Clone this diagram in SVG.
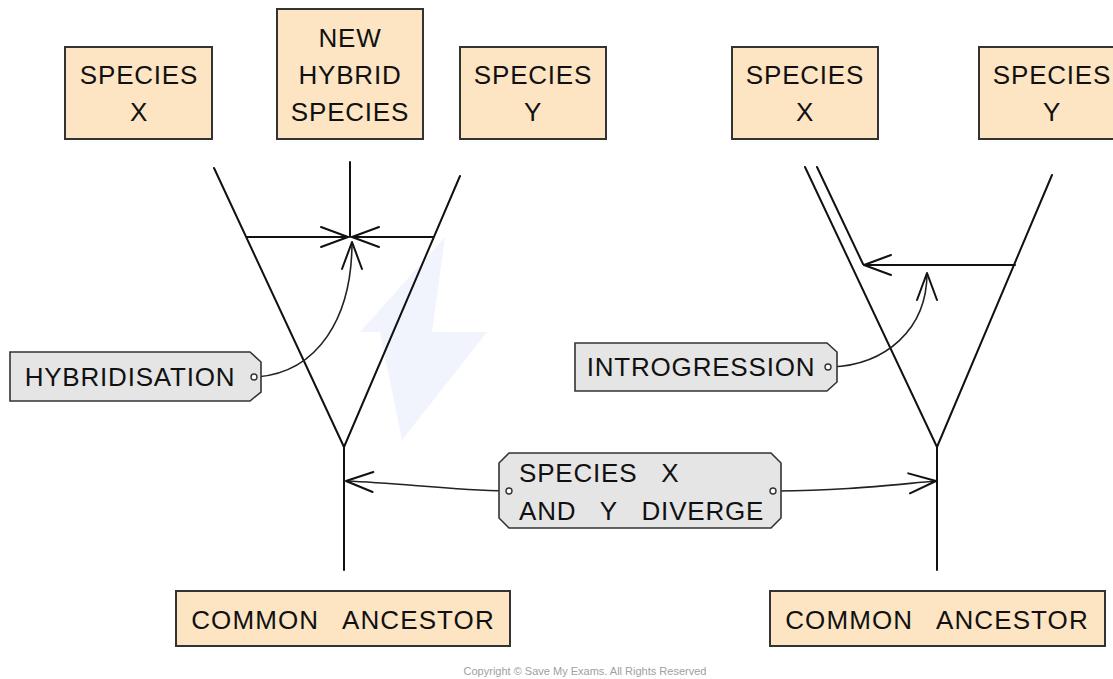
<svg xmlns="http://www.w3.org/2000/svg" width="1113" height="679" viewBox="0 0 1113 679">
<style>
  .box{fill:#FDE5C3;stroke:#333;stroke-width:2}
  .lab{fill:#E5E5E5;stroke:#333;stroke-width:1.6}
  .t{font-family:"Liberation Sans",Arial,sans-serif;font-size:26px;fill:#111;letter-spacing:0.8px}
  .c{text-anchor:middle}
  .ln{fill:none;stroke:#111;stroke-width:2;stroke-linecap:round;stroke-linejoin:round}
  .cv{fill:none;stroke:#222;stroke-width:1.6}
  .dot{fill:#fff;stroke:#333;stroke-width:1.4}
</style>
<defs>
  <marker id="arr" markerUnits="userSpaceOnUse" viewBox="-30 -14 34 28" refX="0" refY="0" markerWidth="34" markerHeight="28" orient="auto">
    <path d="M-27,-10 L0,0 L-27,10" fill="none" stroke="#111" stroke-width="2" stroke-linecap="round" stroke-linejoin="round"/>
  </marker>
</defs>
<g id="watermark">
  <polygon points="445,237 360,332 432,332" fill="#F1F4FC"/>
  <polygon points="380,332 487,332 402,440" fill="#F1F4FC"/>
</g>
<g id="connectors">
  <path class="ln" d="M214,168 L344,447 L460,176"/>
  <path class="ln" d="M344,447 L344,570"/>
  <path class="ln" d="M350,162 L350,237"/>
  <path class="ln" d="M247,237 L348,237" marker-end="url(#arr)"/>
  <path class="ln" d="M433,237 L352,237" marker-end="url(#arr)"/>
  <path class="cv" d="M257,377 C318,372 352,318 352,242" marker-end="url(#arr)"/>
  <path class="ln" d="M805,167 L937,447 L1052,175"/>
  <path class="ln" d="M937,447 L937,570"/>
  <path class="ln" d="M817,167 L863,264"/>
  <path class="ln" d="M1015,265 L864,265" marker-end="url(#arr)"/>
  <path class="cv" d="M831,367 C885,365 927,330 927,273" marker-end="url(#arr)"/>
  <path class="cv" d="M506,491 C450,490 400,483 346,481" marker-end="url(#arr)"/>
  <path class="cv" d="M777,491 C840,491 890,485 936,481" marker-end="url(#arr)"/>
</g>
<g id="speciesX-left">
  <rect class="box" x="65" y="47" width="147" height="92"/>
  <text class="t c" x="139" y="84">SPECIES</text>
  <text class="t c" x="139" y="121">X</text>
</g>
<g id="new-hybrid">
  <rect class="box" x="277" y="9" width="146" height="130"/>
  <text class="t c" x="350" y="47">NEW</text>
  <text class="t c" x="350" y="84">HYBRID</text>
  <text class="t c" x="350" y="121">SPECIES</text>
</g>
<g id="speciesY-left">
  <rect class="box" x="460" y="47" width="146" height="92"/>
  <text class="t c" x="533" y="84">SPECIES</text>
  <text class="t c" x="533" y="121">Y</text>
</g>
<g id="speciesX-right">
  <rect class="box" x="732" y="47" width="146" height="92"/>
  <text class="t c" x="805" y="84">SPECIES</text>
  <text class="t c" x="805" y="121">X</text>
</g>
<g id="speciesY-right">
  <rect class="box" x="979" y="47" width="146" height="92"/>
  <text class="t c" x="1052" y="84">SPECIES</text>
  <text class="t c" x="1052" y="121">Y</text>
</g>
<g id="ancestor-left">
  <rect class="box" x="176" y="591" width="334" height="55"/>
  <text class="t c" x="343" y="629" style="word-spacing:16px;letter-spacing:1.1px">COMMON ANCESTOR</text>
</g>
<g id="ancestor-right">
  <rect class="box" x="770" y="591" width="335" height="55"/>
  <text class="t c" x="937" y="629" style="word-spacing:16px;letter-spacing:1.1px">COMMON ANCESTOR</text>
</g>
<g id="hybridisation">
  <path class="lab" d="M10,352 L250,352 L261,362 L261,392 L250,401 L10,401 Z"/>
  <text class="t c" x="130" y="386">HYBRIDISATION</text>
  <circle class="dot" cx="254" cy="377" r="3"/>
</g>
<g id="introgression">
  <path class="lab" d="M575,343 L827,343 L837,352 L837,382 L827,391 L575,391 Z"/>
  <text class="t c" x="701" y="376">INTROGRESSION</text>
  <circle class="dot" cx="828" cy="367" r="3"/>
</g>
<g id="diverge">
  <path class="lab" d="M509,453 L771,453 L781,463 L781,518 L771,528 L509,528 L499,518 L499,463 Z"/>
  <text class="t" x="519" y="482" style="word-spacing:16px">SPECIES X</text>
  <text class="t" x="519" y="520" style="word-spacing:16px">AND Y DIVERGE</text>
  <circle class="dot" cx="509" cy="491" r="3"/>
  <circle class="dot" cx="773" cy="491" r="3"/>
</g>
<text x="585" y="675" text-anchor="middle" font-family="Liberation Sans, Arial, sans-serif" font-size="11" fill="#A0A0A0">Copyright © Save My Exams. All Rights Reserved</text>
</svg>
